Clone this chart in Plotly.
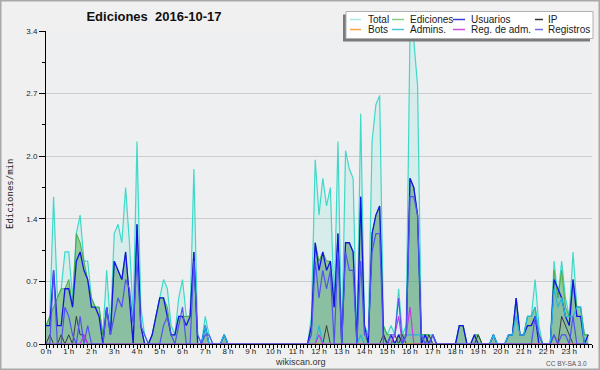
import plotly.graph_objects as go

# ---------------- data (10-minute bins, values in edits/min) ----------------
hour_labels = [f"{h} h" for h in range(24)]
hour_ticks = list(range(24))
ytick_vals = [0, 0.68, 1.36, 2.04, 2.72, 3.4]
ytick_text = ["0.0", "0.7", "1.4", "2.0", "2.7", "3.4"]
yminor_vals = [0.34, 1.02, 1.70, 2.38, 3.06]

total = [
    0.2, 0.3, 1.6, 0.5, 0.6, 1.0, 1.0, 0.5, 1.2, 1.4, 0.9, 0.9,
    0.5, 0.4, 0.4, 0.1, 0.8, 0.2, 1.2, 1.3, 1.1, 1.7, 1.1, 0.3,
    2.2, 0.4, 0.1, 0.0, 0.1, 0.3, 0.5, 0.7, 0.6, 0.2, 0.1, 0.5,
    0.7, 0.3, 0.3, 1.9, 0.1, 0.0, 0.3, 0.1, 0.0, 0.0, 0.0, 0.1,
    0.0, 0.0, 0.0, 0.0, 0.0, 0.0, 0.0, 0.0, 0.0, 0.0, 0.0, 0.0,
    0.0, 0.0, 0.0, 0.0, 0.0, 0.0, 0.0, 0.0, 0.0, 0.0, 0.3, 2.0,
    1.4, 1.8, 1.5, 1.7, 0.4, 2.2, 0.0, 2.1, 1.9, 1.8, 0.0, 2.5,
    0.2, 0.1, 2.2, 2.6, 2.7, 0.2, 0.1, 0.2, 0.1, 0.6, 0.1, 0.2,
    3.4, 3.3, 2.8, 0.1, 0.1, 0.1, 0.1, 0.0, 0.0, 0.0, 0.0, 0.0,
    0.0, 0.2, 0.2, 0.0, 0.0, 0.1, 0.1, 0.0, 0.0, 0.0, 0.1, 0.0,
    0.0, 0.0, 0.1, 0.1, 0.5, 0.1, 0.1, 0.3, 0.3, 0.7, 0.2, 0.0,
    0.0, 0.0, 0.9, 0.5, 0.9, 0.5, 0.3, 1.0, 0.4, 0.4, 0.1, 0.1,
]
ediciones = [
    0.2, 0.3, 0.4, 0.5, 0.6, 0.6, 0.7, 0.4, 1.2, 1.1, 0.9, 0.7,
    0.5, 0.4, 0.4, 0.1, 0.4, 0.1, 0.9, 0.8, 0.7, 1.0, 0.5, 0.0,
    1.3, 0.2, 0.0, 0.0, 0.1, 0.3, 0.5, 0.5, 0.4, 0.1, 0.1, 0.3,
    0.3, 0.3, 0.3, 1.0, 0.0, 0.0, 0.2, 0.0, 0.0, 0.0, 0.0, 0.1,
    0.0, 0.0, 0.0, 0.0, 0.0, 0.0, 0.0, 0.0, 0.0, 0.0, 0.0, 0.0,
    0.0, 0.0, 0.0, 0.0, 0.0, 0.0, 0.0, 0.0, 0.0, 0.0, 0.2, 1.1,
    0.9, 1.0, 0.9, 0.9, 0.4, 1.2, 0.0, 1.1, 1.1, 1.0, 0.0, 1.6,
    0.1, 0.0, 1.2, 1.4, 1.5, 0.2, 0.1, 0.1, 0.0, 0.1, 0.1, 0.1,
    1.8, 1.7, 1.4, 0.1, 0.1, 0.1, 0.0, 0.0, 0.0, 0.0, 0.0, 0.0,
    0.0, 0.2, 0.2, 0.0, 0.0, 0.1, 0.1, 0.0, 0.0, 0.0, 0.1, 0.0,
    0.0, 0.0, 0.1, 0.1, 0.5, 0.1, 0.1, 0.3, 0.3, 0.4, 0.1, 0.0,
    0.0, 0.0, 0.8, 0.5, 0.8, 0.4, 0.3, 0.7, 0.4, 0.4, 0.1, 0.1,
]
usuarios = [
    0.2, 0.2, 0.8, 0.2, 0.2, 0.6, 0.6, 0.4, 0.9, 1.0, 0.8, 0.7,
    0.4, 0.4, 0.3, 0.0, 0.4, 0.1, 0.9, 0.8, 0.7, 1.0, 0.5, 0.0,
    1.3, 0.2, 0.0, 0.0, 0.1, 0.3, 0.5, 0.5, 0.3, 0.1, 0.1, 0.3,
    0.3, 0.2, 0.3, 1.0, 0.0, 0.0, 0.2, 0.0, 0.0, 0.0, 0.0, 0.1,
    0.0, 0.0, 0.0, 0.0, 0.0, 0.0, 0.0, 0.0, 0.0, 0.0, 0.0, 0.0,
    0.0, 0.0, 0.0, 0.0, 0.0, 0.0, 0.0, 0.0, 0.0, 0.0, 0.2, 1.1,
    0.8, 1.0, 0.8, 0.9, 0.4, 1.2, 0.0, 1.1, 1.1, 1.0, 0.0, 1.6,
    0.2, 0.0, 1.2, 1.4, 1.5, 0.1, 0.0, 0.1, 0.0, 0.1, 0.0, 0.1,
    1.8, 1.7, 1.4, 0.0, 0.1, 0.0, 0.1, 0.0, 0.0, 0.0, 0.0, 0.0,
    0.0, 0.2, 0.2, 0.0, 0.0, 0.1, 0.0, 0.0, 0.0, 0.0, 0.1, 0.0,
    0.0, 0.0, 0.1, 0.1, 0.5, 0.1, 0.1, 0.2, 0.2, 0.3, 0.0, 0.0,
    0.0, 0.0, 0.7, 0.6, 0.5, 0.3, 0.2, 0.7, 0.3, 0.3, 0.0, 0.1,
]
ip = [
    0.0, 0.1, 0.0, 0.0, 0.1, 0.0, 0.1, 0.0, 0.3, 0.1, 0.1, 0.0,
    0.0, 0.0, 0.0, 0.0, 0.0, 0.0, 0.0, 0.0, 0.0, 0.0, 0.0, 0.0,
    0.0, 0.0, 0.0, 0.0, 0.0, 0.0, 0.0, 0.0, 0.0, 0.0, 0.0, 0.0,
    0.0, 0.0, 0.0, 0.0, 0.0, 0.0, 0.0, 0.0, 0.0, 0.0, 0.0, 0.0,
    0.0, 0.0, 0.0, 0.0, 0.0, 0.0, 0.0, 0.0, 0.0, 0.0, 0.0, 0.0,
    0.0, 0.0, 0.0, 0.0, 0.0, 0.0, 0.0, 0.0, 0.0, 0.0, 0.0, 0.0,
    0.0, 0.0, 0.2, 0.0, 0.0, 0.0, 0.0, 0.0, 0.0, 0.0, 0.0, 0.0,
    0.0, 0.0, 0.0, 0.0, 0.0, 0.1, 0.0, 0.0, 0.1, 0.0, 0.1, 0.0,
    0.0, 0.0, 0.0, 0.0, 0.0, 0.1, 0.0, 0.0, 0.0, 0.0, 0.0, 0.0,
    0.0, 0.0, 0.0, 0.0, 0.0, 0.0, 0.1, 0.0, 0.0, 0.0, 0.0, 0.0,
    0.0, 0.0, 0.0, 0.0, 0.0, 0.0, 0.0, 0.0, 0.0, 0.0, 0.0, 0.0,
    0.0, 0.0, 0.1, 0.0, 0.3, 0.2, 0.1, 0.0, 0.0, 0.0, 0.0, 0.0,
]
bots = [0.0] * 144
admins = [
    0.0, 0.0, 0.0, 0.0, 0.0, 0.0, 0.0, 0.0, 0.0, 0.0, 0.0, 0.0,
    0.0, 0.0, 0.0, 0.0, 0.0, 0.0, 0.0, 0.0, 0.0, 0.0, 0.0, 0.0,
    0.0, 0.0, 0.0, 0.0, 0.0, 0.0, 0.0, 0.0, 0.0, 0.0, 0.0, 0.0,
    0.0, 0.0, 0.0, 0.0, 0.0, 0.0, 0.2, 0.0, 0.0, 0.0, 0.0, 0.1,
    0.0, 0.0, 0.0, 0.0, 0.0, 0.0, 0.0, 0.0, 0.0, 0.0, 0.0, 0.0,
    0.0, 0.0, 0.0, 0.0, 0.0, 0.0, 0.0, 0.0, 0.0, 0.0, 0.0, 0.0,
    0.2, 0.0, 0.0, 0.0, 0.0, 0.0, 0.0, 0.0, 0.0, 0.0, 0.0, 0.1,
    0.0, 0.0, 0.0, 0.0, 0.0, 0.0, 0.0, 0.0, 0.0, 0.0, 0.0, 0.1,
    0.1, 0.1, 0.1, 0.1, 0.0, 0.0, 0.0, 0.0, 0.0, 0.0, 0.0, 0.0,
    0.0, 0.0, 0.0, 0.0, 0.0, 0.0, 0.0, 0.0, 0.0, 0.0, 0.1, 0.0,
    0.0, 0.0, 0.1, 0.1, 0.3, 0.1, 0.1, 0.3, 0.3, 0.4, 0.1, 0.0,
    0.0, 0.0, 0.6, 0.4, 0.5, 0.3, 0.3, 0.3, 0.4, 0.4, 0.0, 0.0,
]
reg_adm = [
    0.0, 0.0, 0.0, 0.0, 0.0, 0.0, 0.0, 0.0, 0.0, 0.0, 0.1, 0.0,
    0.0, 0.0, 0.0, 0.0, 0.0, 0.0, 0.0, 0.0, 0.0, 0.0, 0.0, 0.0,
    0.0, 0.0, 0.0, 0.0, 0.0, 0.0, 0.0, 0.0, 0.0, 0.0, 0.0, 0.0,
    0.0, 0.0, 0.0, 0.0, 0.0, 0.0, 0.0, 0.0, 0.0, 0.0, 0.0, 0.0,
    0.0, 0.0, 0.0, 0.0, 0.0, 0.0, 0.0, 0.0, 0.0, 0.0, 0.0, 0.0,
    0.0, 0.0, 0.0, 0.0, 0.0, 0.0, 0.0, 0.0, 0.0, 0.0, 0.0, 0.0,
    0.1, 0.0, 0.0, 0.0, 0.0, 0.0, 0.0, 0.0, 0.0, 0.0, 0.0, 0.0,
    0.0, 0.0, 0.0, 0.0, 0.0, 0.0, 0.0, 0.0, 0.1, 0.3, 0.0, 0.1,
    0.4, 0.0, 0.0, 0.0, 0.0, 0.0, 0.0, 0.0, 0.0, 0.0, 0.0, 0.0,
    0.0, 0.0, 0.0, 0.0, 0.0, 0.0, 0.0, 0.0, 0.0, 0.0, 0.0, 0.0,
    0.0, 0.0, 0.0, 0.0, 0.0, 0.0, 0.0, 0.0, 0.0, 0.0, 0.0, 0.0,
    0.0, 0.0, 0.0, 0.0, 0.0, 0.0, 0.0, 0.0, 0.0, 0.0, 0.0, 0.0,
]
registros = [
    0.0, 0.0, 0.8, 0.0, 0.0, 0.4, 0.3, 0.1, 0.0, 0.3, 0.0, 0.2,
    0.0, 0.0, 0.0, 0.0, 0.4, 0.1, 0.3, 0.5, 0.4, 0.7, 0.6, 0.2,
    0.9, 0.2, 0.1, 0.0, 0.0, 0.0, 0.0, 0.2, 0.3, 0.1, 0.0, 0.2,
    0.4, 0.0, 0.0, 0.9, 0.1, 0.0, 0.1, 0.1, 0.0, 0.0, 0.0, 0.0,
    0.0, 0.0, 0.0, 0.0, 0.0, 0.0, 0.0, 0.0, 0.0, 0.0, 0.0, 0.0,
    0.0, 0.0, 0.0, 0.0, 0.0, 0.0, 0.0, 0.0, 0.0, 0.0, 0.1, 0.9,
    0.5, 0.8, 0.6, 0.8, 0.0, 1.0, 0.0, 1.0, 0.8, 0.8, 0.0, 0.9,
    0.1, 0.1, 1.0, 1.2, 1.2, 0.0, 0.0, 0.1, 0.1, 0.5, 0.0, 0.1,
    1.6, 1.6, 1.4, 0.1, 0.0, 0.0, 0.1, 0.0, 0.0, 0.0, 0.0, 0.0,
    0.0, 0.0, 0.0, 0.0, 0.0, 0.0, 0.0, 0.0, 0.0, 0.0, 0.0, 0.0,
    0.0, 0.0, 0.0, 0.0, 0.0, 0.0, 0.0, 0.0, 0.0, 0.3, 0.1, 0.0,
    0.0, 0.0, 0.1, 0.0, 0.1, 0.1, 0.0, 0.3, 0.0, 0.0, 0.0, 0.0,
]
bin_hours = [i / 6 for i in range(len(total))]  # 10-minute bins

# ---------------- layout geometry ----------------
W, H = 600, 370
L, R, T, B = 46, 592, 31, 344
FONT = "Liberation Sans"


def px(x):
    return (x - L) / (R - L)


def py(y):
    return (B - y) / (B - T)


fig = go.Figure()

series = [
    # name, values, line color, width, fill color
    ("Total", total, "#3fd9c9", 1.2, "rgba(64,224,208,0.13)"),
    ("Ediciones", ediciones, "#4aaa48", 1.0, "rgba(50,160,40,0.42)"),
    ("Usuarios", usuarios, "#1414e6", 1.3, "rgba(100,120,200,0.15)"),
    ("IP", ip, "#3a3a3a", 1.0, None),
    ("Bots", bots, "#ff9933", 1.0, None),
    ("Admins.", admins, "#22b8e2", 1.2, None),
    ("Reg. de adm.", reg_adm, "#c836e8", 1.1, None),
    ("Registros", registros, "#5252f2", 1.2, None),
]
for name, vals, col, w, fcol in series:
    fig.add_trace(go.Scatter(
        x=bin_hours, y=vals, name=name, mode="lines",
        line=dict(color=col, width=w, shape="linear"),
        fill="tozeroy" if fcol else None,
        fillcolor=fcol,
        showlegend=False, hoverinfo="skip",
    ))

shapes = []
annotations = []

# outer border
shapes.append(dict(type="rect", xref="paper", yref="paper",
                   x0=px(0.75), x1=px(599.25), y0=py(0.75), y1=py(369.25),
                   line=dict(color="#a8a8a8", width=1.5), layer="above"))

# legend box with shadow
shapes.append(dict(type="rect", xref="paper", yref="paper",
                   x0=px(343), x1=px(590), y0=py(14.5), y1=py(41.5),
                   fillcolor="#7a7a7a", line=dict(width=0), layer="above"))
shapes.append(dict(type="rect", xref="paper", yref="paper",
                   x0=px(346), x1=px(593), y0=py(11.5), y1=py(38.5),
                   fillcolor="#ffffff", line=dict(color="#b0b0b0", width=1), layer="above"))

legend_items = [
    ("Total", "#a9e9e1"), ("Ediciones", "#86cc86"), ("Usuarios", "#3a3ad8"), ("IP", "#333333"),
    ("Bots", "#ffa040"), ("Admins.", "#44c8dc"), ("Reg. de adm.", "#cc4ddd"), ("Registros", "#6a6ae0"),
]
sym_x = [(350, 361), (392, 404), (453, 465), (535, 543)]
txt_x = [365.5, 408, 469, 545.5]
row_y = [19.5, 29.5]
for k, (label, col) in enumerate(legend_items):
    r, c = divmod(k, 4)
    shapes.append(dict(type="line", xref="paper", yref="paper",
                       x0=px(sym_x[c][0]), x1=px(sym_x[c][1]), y0=py(row_y[r]), y1=py(row_y[r]),
                       line=dict(color=col, width=1.5), layer="above"))
    annotations.append(dict(text=label, xref="paper", yref="paper",
                            x=px(txt_x[c]), y=py(row_y[r]), xanchor="left", yanchor="middle",
                            showarrow=False, font=dict(family=FONT, size=10, color="#1a1a1a")))

# y-axis title
annotations.append(dict(text="Ediciones/min", xref="paper", yref="paper",
                        x=px(10), y=py(194), textangle=-90, showarrow=False,
                        xanchor="center", yanchor="middle",
                        font=dict(family="DejaVu Sans Mono", size=9, color="#222")))
# footers
annotations.append(dict(text="wikiscan.org", xref="paper", yref="paper",
                        x=px(300), y=py(362), showarrow=False, xanchor="center", yanchor="middle",
                        font=dict(family=FONT, size=9, color="#333")))
annotations.append(dict(text="CC BY-SA 3.0", xref="paper", yref="paper",
                        x=px(589), y=py(363), showarrow=False, xanchor="right", yanchor="middle",
                        font=dict(family=FONT, size=6.5, color="#555")))

fig.update_layout(
    width=W, height=H,
    margin=dict(l=L, r=W - R, t=T, b=H - B, autoexpand=False),
    paper_bgcolor="#f0f0f0",
    plot_bgcolor="#eeeff1",
    showlegend=False,
    hovermode=False,
    title=dict(text="<b>Ediciones\u00a0 2016-10-17</b>", x=154 / W, xanchor="center",
               y=1 - 16 / H, yanchor="middle", xref="container", yref="container",
               font=dict(family=FONT, size=13, color="#111")),
    shapes=shapes,
    annotations=annotations,
    xaxis=dict(
        range=[0, 24], tickmode="array", tickvals=hour_ticks, ticktext=hour_labels,
        ticks="outside", ticklen=4, tickwidth=1, tickcolor="#000",
        ticklabelstandoff=-5,
        showline=True, linecolor="#000", linewidth=1,
        showgrid=False, zeroline=False,
        tickfont=dict(family=FONT, size=8, color="#222"),
        minor=dict(tickmode="linear", tick0=0, dtick=1 / 6, ticks="outside",
                   ticklen=3, tickcolor="#000", tickwidth=1, showgrid=False),
    ),
    yaxis=dict(
        range=[0, 3.4], tickmode="array", tickvals=ytick_vals, ticktext=ytick_text,
        ticks="outside", ticklen=6, tickwidth=1, tickcolor="#000",
        showline=True, linecolor="#000", linewidth=1,
        showgrid=True, gridcolor="#cdcdcd", gridwidth=1, zeroline=False,
        tickfont=dict(family=FONT, size=8, color="#222"),
        minor=dict(tickmode="array", tickvals=yminor_vals, ticks="outside",
                   ticklen=3, tickcolor="#000", tickwidth=1, showgrid=False),
    ),
)

fig.write_html(
    "out.html",
    config={"displayModeBar": False, "staticPlot": True},
    post_script="document.body.style.margin='0';document.body.style.overflow='hidden';",
)
